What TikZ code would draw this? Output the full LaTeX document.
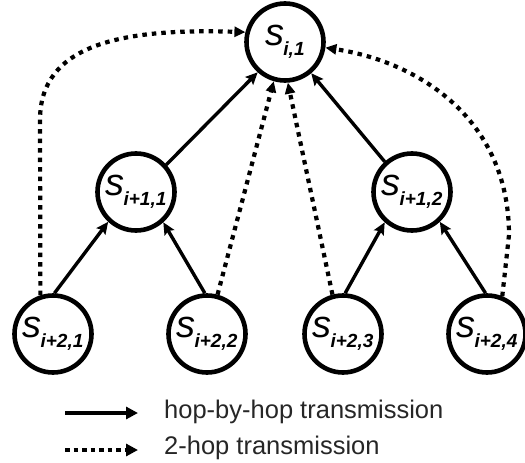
\documentclass[tikz,border=0pt]{standalone}
\usepackage{fontspec}
\setmainfont{Liberation Sans}
\usetikzlibrary{arrows.meta}
\newcommand\slab[1]{{\fontsize{38}{38}\selectfont\itshape s}\kern-1pt\raisebox{-10pt}{\fontsize{19}{19}\selectfont\bfseries\itshape #1}}
\begin{document}
\begin{tikzpicture}[x=1pt,y=-1pt,
  snode/.style={circle,draw,line width=4.6pt,minimum size=77pt,inner sep=0pt,fill=white},
  hop/.style={line width=3.4pt,-{Stealth[length=12pt,width=11pt,inset=2pt]}},
  twohop/.style={line width=4.2pt,dash pattern=on 4.5pt off 5pt,-{Triangle[length=11pt,width=10pt]}},
  legtext/.style={anchor=base west,inner sep=0pt,font=\fontsize{25.5}{25.5}\selectfont,text=black!85}]
\useasboundingbox (0,0) rectangle (525,463);
\node[snode] (top) at (285,42) {\slab{i,1}};
\node[snode] (m1) at (136,192) {\slab{i+1,1}};
\node[snode] (m2) at (412,192) {\slab{i+1,2}};
\node[snode] (b1) at (53,334) {\slab{i+2,1}};
\node[snode] (b2) at (207,334) {\slab{i+2,2}};
\node[snode] (b3) at (343,334) {\slab{i+2,3}};
\node[snode] (b4) at (487,334) {\slab{i+2,4}};
% hop-by-hop
\draw[hop] (m1.42) -- (top.228);
\draw[hop] (m2.132) -- (top.-50);
\draw[hop] (b1.88) -- (m1.227);
\draw[hop] (b2.93) -- (m1.-48);
\draw[hop] (b3.87) -- (m2.228);
\draw[hop] (b4.92) -- (m2.-47);
% 2-hop
\coordinate (lc) at (40,120);
\coordinate (rc) at (509,235);
\draw[twohop] (b1.108) -- (lc) .. controls (40,45) and (120,28) .. (top.166);
\draw[twohop] (b2.75) -- (top.254);
\draw[twohop] (b3.105) -- (top.274);
\draw[twohop] (b4.68) -- (rc) .. controls (509,120) and (420,62) .. (top.-8);
% legend
\coordinate (l1a) at (65,413);
\coordinate (l1b) at (138,413);
\coordinate (l2a) at (65,450);
\coordinate (l2b) at (138,450);
\draw[line width=3.8pt,-{Triangle[length=12pt,width=12pt]}] (l1a) -- (l1b);
\draw[line width=4.2pt,dash pattern=on 4.5pt off 4pt,-{Triangle[length=12pt,width=12pt]}] (l2a) -- (l2b);
\node[legtext] (t1) at (164,418) {hop-by-hop\ transmission};
\node[legtext] (t2) at (164,454) {2-hop transmission};
\end{tikzpicture}
\end{document}
